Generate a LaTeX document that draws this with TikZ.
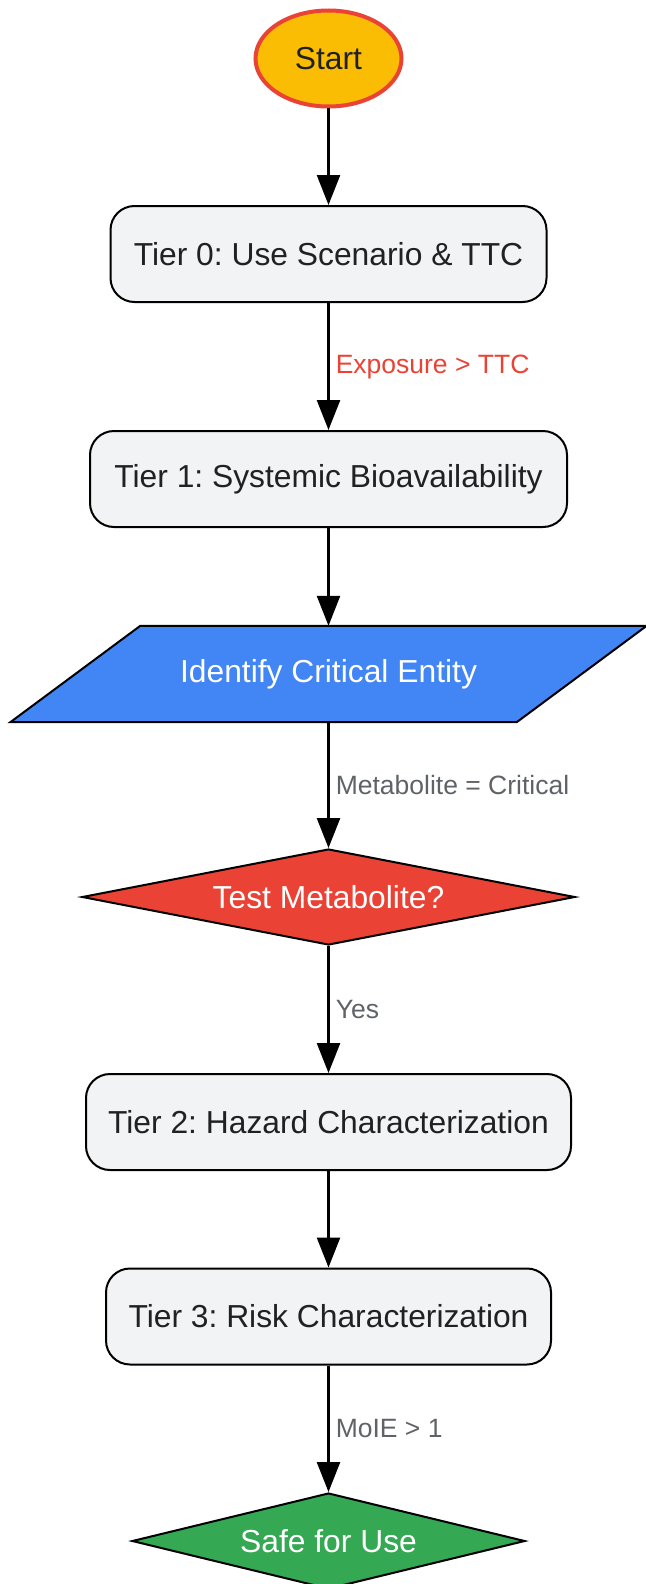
\documentclass[tikz,border=0pt]{standalone}
\usepackage{fontspec}
\setmainfont{Liberation Sans}
\usetikzlibrary{shapes.geometric,arrows.meta,calc,backgrounds}
\definecolor{gyellow}{HTML}{FBBC04}
\definecolor{gred}{HTML}{EA4335}
\definecolor{gblue}{HTML}{4285F4}
\definecolor{ggreen}{HTML}{34A853}
\definecolor{boxfill}{HTML}{F1F3F4}
\definecolor{txtdark}{HTML}{202124}
\definecolor{lblgray}{HTML}{5F6368}
\frenchspacing
\tikzset{
  nodefont/.style={font=\fontsize{31.8}{38}\selectfont},
  lblfont/.style={font=\fontsize{26.5}{32}\selectfont},
  startbox/.style={ellipse, draw=gred, line width=4pt, fill=gyellow, text=txtdark,
    minimum width=146pt, minimum height=96pt, inner sep=0pt, nodefont},
  tierbox/.style={rectangle, rounded corners=24pt, draw=black, line width=2pt, fill=boxfill,
    text=txtdark, minimum height=96pt, inner sep=0pt, nodefont},
  parabox/.style={rectangle, minimum width=506pt, minimum height=96pt, inner sep=0pt,
    text=white, nodefont},
  decbox/.style={diamond, draw=black, line width=2pt, text=white, inner sep=2pt,
    minimum height=96pt, nodefont},
  flow/.style={draw=black, line width=2.5pt, -{Triangle[length=30pt,width=23pt]}},
  elabel/.style={midway, anchor=west, inner sep=0pt, xshift=6pt, lblfont}
}
\begin{document}
\frenchspacing
\begin{tikzpicture}[x=1pt,y=-1pt]
\useasboundingbox (0,0) rectangle (645,1584);
\node[startbox] (start) at (328.5,58.5) {Start};
\node[tierbox, minimum width=436pt] (t0) at (328.5,254) {Tier 0: Use Scenario \& TTC};
\node[tierbox, minimum width=477pt] (t1) at (328.5,479) {Tier 1: Systemic Bioavailability};
\node[parabox] (crit) at (328.5,674) {Identify Critical Entity};
\node[decbox, fill=gred, minimum width=493pt, aspect=5.1] (test) at (328.5,897) {Test Metabolite?};
\node[tierbox, minimum width=485pt] (t2) at (328.5,1122) {Tier 2: Hazard Characterization};
\node[tierbox, minimum width=445pt] (t3) at (328.5,1316.5) {Tier 3: Risk Characterization};
\node[decbox, fill=ggreen, minimum width=393pt, aspect=4.1] (safe) at (328.5,1541) {Safe for Use};
\begin{scope}[on background layer]
\draw[fill=gblue, draw=black, line width=2pt]
  ($(crit.south west)+(-65,0)$) -- ($(crit.south east)+(-65,0)$) --
  ($(crit.north east)+(65,0)$) -- ($(crit.north west)+(65,0)$) -- cycle;
\end{scope}
\draw[flow] (start) -- (t0);
\draw[flow] (t0) -- node[elabel, text=gred] {Exposure > TTC} (t1);
\draw[flow] (t1) -- (crit);
\draw[flow] (crit) -- node[elabel, text=lblgray] {Metabolite = Critical} (test);
\draw[flow] (test) -- node[elabel, text=lblgray] {Yes} (t2);
\draw[flow] (t2) -- (t3);
\draw[flow] (t3) -- node[elabel, text=lblgray] {MoIE > 1} (safe);
\end{tikzpicture}
\end{document}
